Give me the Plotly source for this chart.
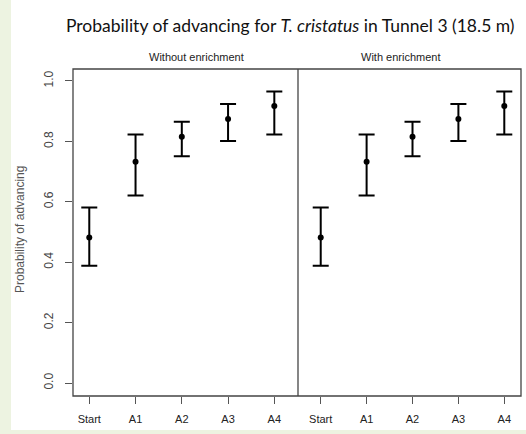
import plotly.graph_objects as go

# Stages along the tunnel and estimated probability of advancing (with 95% CI)
stages = ["Start", "A1", "A2", "A3", "A4"]
stage_pos = [1, 2, 3, 4, 5]
prob_without = [0.482, 0.733, 0.815, 0.874, 0.917]
upper_without = [0.581, 0.823, 0.865, 0.924, 0.965]
lower_without = [0.388, 0.621, 0.751, 0.801, 0.823]
prob_with = [0.482, 0.733, 0.815, 0.874, 0.917]
upper_with = [0.581, 0.823, 0.865, 0.924, 0.965]
lower_with = [0.388, 0.621, 0.751, 0.801, 0.823]
y_ticks = [0.0, 0.2, 0.4, 0.6, 0.8, 1.0]
panel_titles = ["Without enrichment", "With enrichment"]

W, H = 526, 434
ML, MR, MT, MB = 73, 5, 69, 38
PW, PH = W - ML - MR, H - MT - MB


def px_to_paper_x(px):
    return (px - ML) / PW


def px_to_paper_y(py):
    return (H - MB - py) / PH


split = px_to_paper_x(298)

fig = go.Figure()

for prob, up, lo, xa in [
    (prob_without, upper_without, lower_without, "x"),
    (prob_with, upper_with, lower_with, "x2"),
]:
    fig.add_trace(go.Scatter(
        x=stage_pos, y=prob, xaxis=xa, yaxis="y",
        mode="markers",
        marker=dict(color="black", size=6),
        error_y=dict(
            type="data", symmetric=False,
            array=[u - p for u, p in zip(up, prob)],
            arrayminus=[p - l for p, l in zip(prob, lo)],
            color="black", thickness=2, width=8,
        ),
        showlegend=False, hoverinfo="skip",
    ))

axis_common = dict(
    tickvals=stage_pos, ticktext=stages, ticks="outside", ticklen=7,
    tickwidth=1, tickcolor="#555", showgrid=False, zeroline=False,
    showline=False, ticklabelstandoff=6,
    tickfont=dict(family="Liberation Sans", size=11, color="#222"),
    anchor="y", fixedrange=True,
)

fig.update_layout(
    width=W, height=H,
    margin=dict(l=ML, r=MR, t=MT, b=MB, pad=0),
    paper_bgcolor="#edf3e1", plot_bgcolor="white",
    xaxis=dict(domain=[0, split], range=[0.648, 5.512], **axis_common),
    xaxis2=dict(domain=[split, 1], range=[0.505, 5.364], **axis_common),
    yaxis=dict(
        range=[-0.043, 1.0397], tickvals=y_ticks,
        ticktext=[f"{v:.1f}" for v in y_ticks], tickangle=-90,
        ticks="outside", ticklen=7, tickwidth=1, tickcolor="#555",
        showgrid=False, zeroline=False, showline=False, ticklabelstandoff=7,
        tickfont=dict(family="Liberation Sans", size=12, color="#444"),
        fixedrange=True,
    ),
    shapes=[
        # white page area
        dict(type="rect", xref="paper", yref="paper",
             x0=px_to_paper_x(11), x1=px_to_paper_x(W + 2),
             y0=px_to_paper_y(430), y1=px_to_paper_y(-2),
             fillcolor="white", line=dict(width=0), layer="below"),
        # panel frame and divider
        dict(type="rect", xref="paper", yref="paper", x0=0, x1=1, y0=0, y1=1,
             line=dict(color="#444", width=1.3), layer="above"),
        dict(type="line", xref="paper", yref="paper", x0=split, x1=split, y0=0, y1=1,
             line=dict(color="#444", width=1.3), layer="above"),
    ],
    annotations=[
        dict(text="Probability of advancing for <i>T. cristatus</i> in Tunnel 3 (18.5 m)",
             xref="paper", yref="paper", x=px_to_paper_x(64), y=px_to_paper_y(25),
             xanchor="left", yanchor="middle", showarrow=False,
             font=dict(family="Lato", size=17.5, color="#111")),
        dict(text=panel_titles[0], xref="paper", yref="paper",
             x=px_to_paper_x(196.5), y=px_to_paper_y(57),
             xanchor="center", yanchor="middle", showarrow=False,
             font=dict(family="Liberation Sans", size=11, color="#222")),
        dict(text=panel_titles[1], xref="paper", yref="paper",
             x=px_to_paper_x(400), y=px_to_paper_y(57),
             xanchor="center", yanchor="middle", showarrow=False,
             font=dict(family="Liberation Sans", size=11, color="#222")),
        dict(text="Probability of advancing", xref="paper", yref="paper",
             x=px_to_paper_x(20), y=px_to_paper_y(230), textangle=-90,
             xanchor="center", yanchor="middle", showarrow=False,
             font=dict(family="Liberation Sans", size=12, color="#555")),
    ],
)

fig.write_html("out.html")
